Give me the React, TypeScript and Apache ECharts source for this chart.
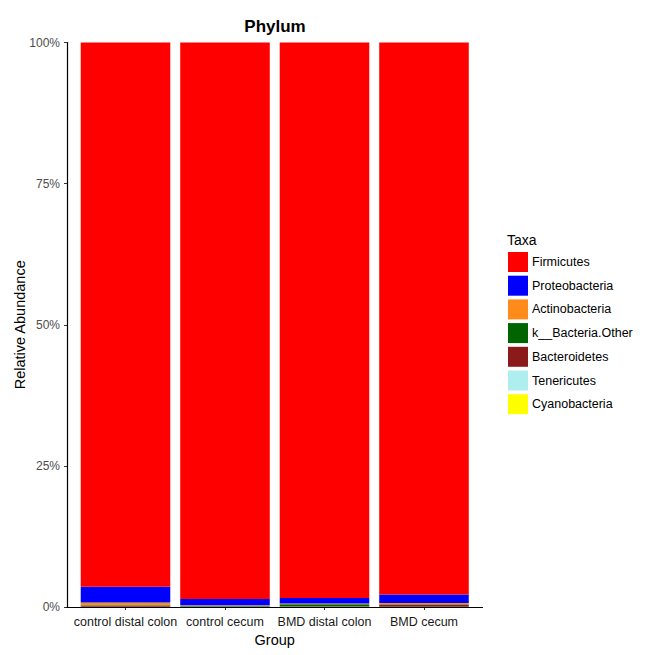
import React, { useEffect, useRef } from "react";
import * as echarts from "echarts";

const groups = ["control distal colon", "control cecum", "BMD distal colon", "BMD cecum"];
const taxa = [
  "Firmicutes",
  "Proteobacteria",
  "Actinobacteria",
  "k__Bacteria.Other",
  "Bacteroidetes",
  "Tenericutes",
  "Cyanobacteria",
];
const colors = ["#FF0000", "#0000FF", "#FF8C1A", "#006400", "#8B1A1A", "#AEEEEE", "#FFFF00"];
const firmicutes = [96.4, 98.6, 98.4, 97.8];
const proteobacteria = [2.8, 1.1, 1.0, 1.5];
const actinobacteria = [0.5, 0.1, 0.1, 0.2];
const bacteriaOther = [0.1, 0.1, 0.4, 0.1];
const bacteroidetes = [0.15, 0.05, 0.05, 0.35];
const tenericutes = [0.03, 0.03, 0.03, 0.03];
const cyanobacteria = [0.02, 0.02, 0.02, 0.02];
const yTicks = [0, 25, 50, 75, 100];

const values = [firmicutes, proteobacteria, actinobacteria, bacteriaOther, bacteroidetes, tenericutes, cyanobacteria];

export default function App() {
  const ref = useRef<HTMLDivElement>(null);
  useEffect(() => {
    const chart = echarts.init(ref.current!, null, { renderer: "svg" });
    const font = "Liberation Sans, Arial, sans-serif";
    // ggplot stacks first level on top -> build series bottom-up
    const order = taxa.map((_, i) => i).reverse();
    const series = order.map((i) => ({
      type: "bar",
      name: taxa[i],
      stack: "total",
      barCategoryGap: "10%",
      itemStyle: { color: colors[i] },
      data: values[i],
    }));
    chart.setOption({
      animation: false,
      textStyle: { fontFamily: font },
      title: {
        text: "Phylum",
        left: 270,
        textAlign: "center",
        top: 13,
        textStyle: { fontSize: 17, fontWeight: "bold", color: "#000", fontFamily: font },
      },
      grid: {
        left: 75.75,
        right: 181.25,
        top: 42.5,
        bottom: 48,
        containLabel: false,
        outerBoundsMode: "none",
      },
      xAxis: {
        type: "category",
        data: groups,
        name: "Group",
        nameLocation: "middle",
        nameGap: 25,
        nameMoveOverlap: false,
        nameTextStyle: { fontSize: 14.5, color: "#000", fontFamily: font },
        axisLine: { show: false },
        axisTick: { show: true, alignWithLabel: true, length: 3, lineStyle: { color: "#333" } },
        axisLabel: {
          interval: 0,
          fontSize: 12.5,
          color: "#1a1a1a",
          margin: 8,
          fontFamily: font,
        },
        splitLine: { show: false },
      },
      yAxis: {
        type: "value",
        min: 0,
        max: 100,
        interval: 25,
        offset: 8.75,
        name: "Relative Abundance",
        nameLocation: "middle",
        nameGap: 40,
        nameMoveOverlap: false,
        nameTextStyle: { fontSize: 14.5, color: "#000", fontFamily: font },
        axisLine: { show: true, lineStyle: { color: "#000", width: 1.2 } },
        axisTick: { show: true, length: 3, lineStyle: { color: "#333" } },
        axisLabel: {
          formatter: (v: number) => (yTicks.includes(v) ? v + "%" : ""),
          fontSize: 12,
          color: "#4d4d4d",
          margin: 7,
          fontFamily: font,
        },
        splitLine: { show: false },
      },
      legend: {
        orient: "vertical",
        left: 503,
        top: 247,
        icon: "rect",
        itemWidth: 20,
        itemHeight: 20,
        itemGap: 3.7,
        data: taxa,
        textStyle: { fontSize: 12.5, color: "#000", fontFamily: font, padding: [0, 0, 0, -1] },
        selectedMode: false,
      },
      graphic: [
        {
          type: "text",
          left: 507,
          top: 233,
          style: { text: "Taxa", fontSize: 14, fill: "#000", fontFamily: font },
        },
        {
          type: "line",
          shape: { x1: 66.4, y1: 607.5, x2: 483, y2: 607.5 },
          style: { stroke: "#000", lineWidth: 1.2 },
          z: 10,
        },
      ],
      series,
    });
    return () => chart.dispose();
  }, []);
  return <div ref={ref} style={{ position: "fixed", left: 0, top: 0, width: 655, height: 655, background: "#fff" }} />;
}
